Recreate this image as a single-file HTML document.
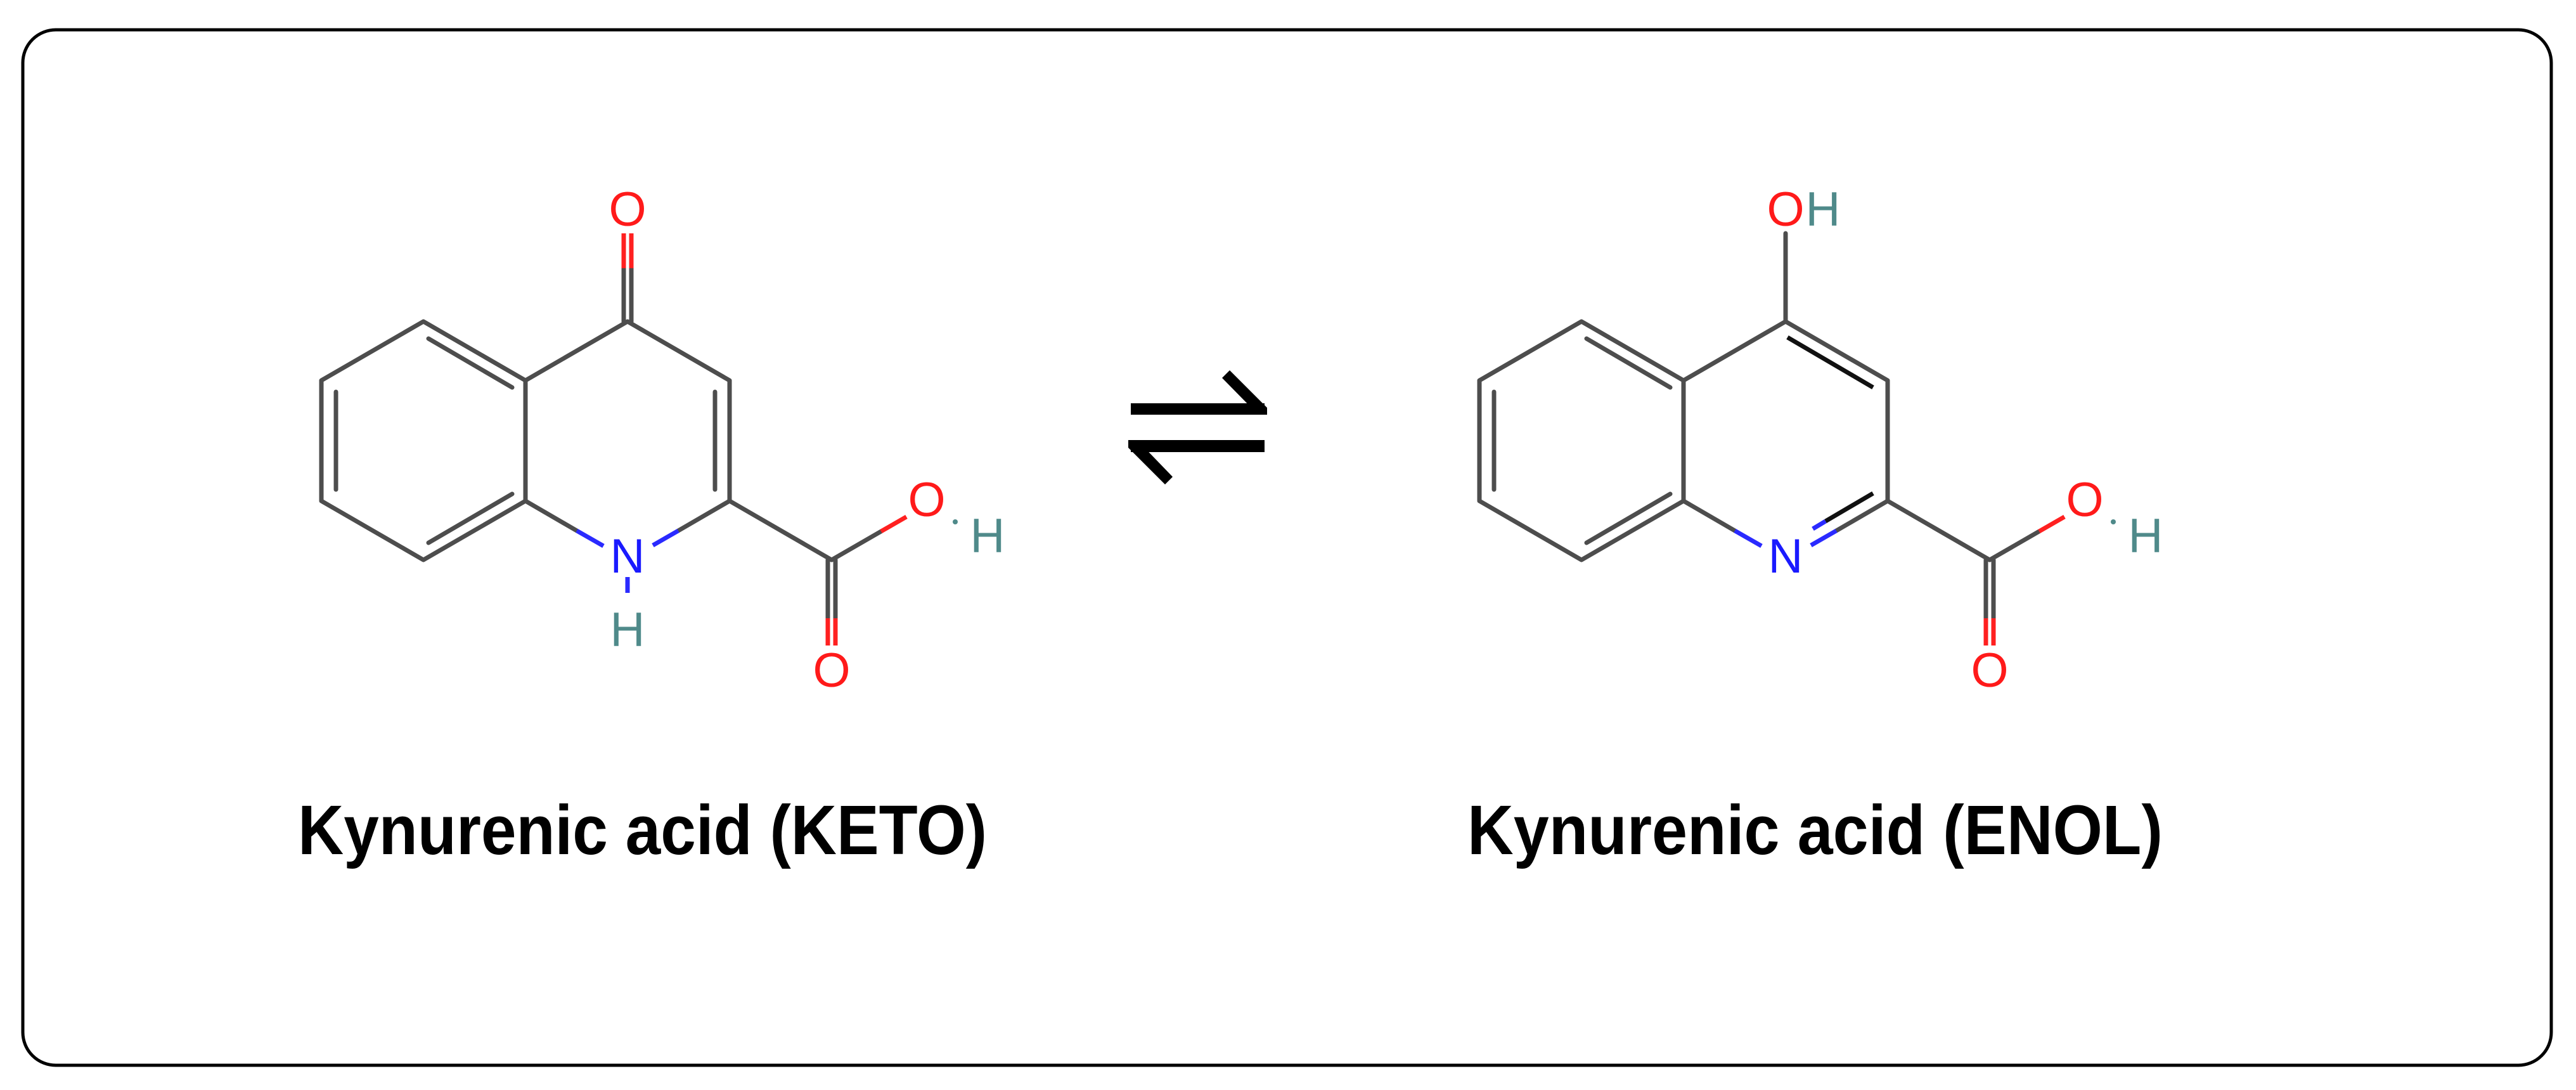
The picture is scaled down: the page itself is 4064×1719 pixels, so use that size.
<!DOCTYPE html>
<html><head><meta charset="utf-8"><style>
html,body{margin:0;padding:0;background:#fff;}
svg{display:block;}
.b{stroke:#4d4d4d;stroke-width:7;fill:none;stroke-linecap:round;stroke-linejoin:round;}
.r{stroke:#ff2020;stroke-width:7;fill:none;}
.n{stroke:#2a2aff;stroke-width:7;fill:none;}
.a{font-family:"Liberation Sans",sans-serif;font-size:76px;text-anchor:middle;}
.lbl{font-family:"Liberation Sans",sans-serif;font-weight:bold;font-size:110px;}
</style></head><body>
<svg width="4064" height="1719" viewBox="0 0 4064 1719" xmlns="http://www.w3.org/2000/svg">
<rect x="36" y="47" width="3989" height="1633" rx="52" ry="52" fill="#fff" stroke="#000" stroke-width="5"/>

<!-- KETO -->
<g>
<polyline class="b" points="829,600 668,507 507,600 507,790 668,883 829,790 829,600 990,507 1151,600 1151,790"/>
<line class="b" x1="530" y1="618" x2="530" y2="772"/>
<line class="b" x1="676" y1="534" x2="808" y2="611"/>
<line class="b" x1="676" y1="856" x2="808" y2="779"/>
<line class="b" x1="1128" y1="618" x2="1128" y2="772"/>
<line class="b" x1="829" y1="790" x2="910" y2="837"/>
<line class="n" x1="910" y1="837" x2="952" y2="861"/>
<line class="b" x1="1151" y1="790" x2="1070" y2="837"/>
<line class="n" x1="1070" y1="837" x2="1030" y2="860"/>
<line class="n" x1="990" y1="910" x2="990" y2="935"/>
<line class="b" x1="984" y1="507" x2="984" y2="423"/><line class="b" x1="996" y1="507" x2="996" y2="423"/>
<line class="r" x1="984" y1="423" x2="984" y2="368"/><line class="r" x1="996" y1="423" x2="996" y2="368"/>
<line class="b" x1="1151" y1="790" x2="1312" y2="883"/>
<line class="b" x1="1312" y1="883" x2="1390" y2="838"/>
<line class="r" x1="1390" y1="838" x2="1430" y2="815"/>
<line class="b" x1="1306" y1="883" x2="1306" y2="975"/><line class="b" x1="1318" y1="883" x2="1318" y2="975"/>
<line class="r" x1="1306" y1="975" x2="1306" y2="1018"/><line class="r" x1="1318" y1="975" x2="1318" y2="1018"/>
<text class="a" x="990" y="356" fill="#ff1a1a">O</text>
<text class="a" x="990" y="903" fill="#1a1aff">N</text>
<text class="a" x="990" y="1019" fill="#4f8a8a">H</text>
<text class="a" x="1462" y="814" fill="#ff1a1a">O</text>
<circle cx="1507" cy="823" r="4" fill="#4f8a8a"/>
<text class="a" x="1558" y="871" fill="#4f8a8a">H</text>
<text class="a" x="1312" y="1083" fill="#ff1a1a">O</text>
</g>

<!-- Arrow -->
<g fill="#000">
<rect x="1784" y="636" width="211" height="18"/>
<path d="M1928,596 L1940,584 L1999,643 L1999,654 L1985,654 Z"/>
<rect x="1784" y="694" width="211" height="19"/>
<path d="M1780,694 L1794,694 L1850,752 L1838,764 L1780,706 Z"/>
</g>

<!-- ENOL -->
<g>
<polyline class="b" points="2656,600 2495,507 2334,600 2334,790 2495,883 2656,790 2656,600 2817,507 2978,600 2978,790"/>
<line class="b" x1="2357" y1="618" x2="2357" y2="772"/>
<line class="b" x1="2503" y1="534" x2="2635" y2="611"/>
<line class="b" x1="2503" y1="856" x2="2635" y2="779"/>
<line stroke="#111" stroke-width="7" x1="2820" y1="532" x2="2955" y2="611"/>
<line class="b" x1="2656" y1="790" x2="2737" y2="837"/>
<line class="n" x1="2737" y1="837" x2="2779" y2="861"/>
<line class="b" x1="2978" y1="790" x2="2897" y2="837"/>
<line class="n" x1="2897" y1="837" x2="2857" y2="860"/>
<line stroke="#111" stroke-width="7" x1="2955" y1="778" x2="2880" y2="822"/>
<line class="n" x1="2880" y1="822" x2="2860" y2="834"/>
<line class="b" x1="2817" y1="507" x2="2817" y2="368"/>
<line class="b" x1="2978" y1="790" x2="3139" y2="883"/>
<line class="b" x1="3139" y1="883" x2="3217" y2="838"/>
<line class="r" x1="3217" y1="838" x2="3257" y2="815"/>
<line class="b" x1="3133" y1="883" x2="3133" y2="975"/><line class="b" x1="3145" y1="883" x2="3145" y2="975"/>
<line class="r" x1="3133" y1="975" x2="3133" y2="1018"/><line class="r" x1="3145" y1="975" x2="3145" y2="1018"/>
<text class="a" x="2817" y="356" fill="#ff1a1a">O</text>
<text class="a" x="2876" y="356" fill="#4f8a8a">H</text>
<text class="a" x="2817" y="903" fill="#1a1aff">N</text>
<text class="a" x="3289" y="814" fill="#ff1a1a">O</text>
<circle cx="3334" cy="823" r="4" fill="#4f8a8a"/>
<text class="a" x="3385" y="871" fill="#4f8a8a">H</text>
<text class="a" x="3139" y="1083" fill="#ff1a1a">O</text>
</g>

<text class="lbl" x="470" y="1347" textLength="1087" lengthAdjust="spacingAndGlyphs">Kynurenic acid (KETO)</text>
<text class="lbl" x="2315" y="1347" textLength="1097" lengthAdjust="spacingAndGlyphs">Kynurenic acid (ENOL)</text>
</svg>
</body></html>
